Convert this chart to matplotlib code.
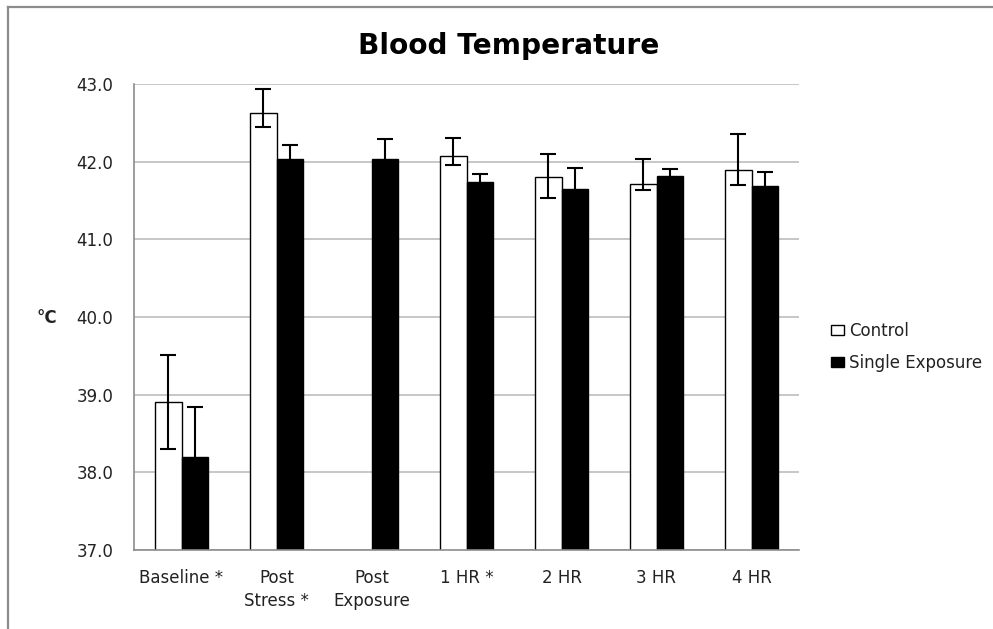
import numpy as np
import matplotlib
matplotlib.use("Agg")
import matplotlib.pyplot as plt
from matplotlib.lines import Line2D

# blood temperature (deg C) per time point, mean with error bars
categories = ["Baseline *", "Post\nStress *", "Post\nExposure", "1 HR *", "2 HR", "3 HR", "4 HR"]
control = [38.91, 42.63, np.nan, 42.07, 41.80, 41.71, 41.89]
control_err_up = [0.60, 0.30, np.nan, 0.23, 0.30, 0.33, 0.46]
control_err_down = [0.61, 0.19, np.nan, 0.11, 0.27, 0.07, 0.19]
single = [38.20, 42.03, 42.03, 41.74, 41.65, 41.81, 41.69]
single_err = [0.64, 0.19, 0.26, 0.10, 0.27, 0.09, 0.18]

plt.rcParams['font.family'] = ['DejaVu Sans']
txt = "#222222"

fig = plt.figure(figsize=(9.93, 6.29), dpi=100)
ax = fig.add_axes([134 / 993, 1 - 550 / 629, 665 / 993, 466 / 629])

x = np.arange(len(categories))
w = 0.28
ax.bar(x - w / 2, control, w, color="white", edgecolor="black", linewidth=1.0, zorder=2, label="Control")
ax.bar(x + w / 2, single, w, color="black", edgecolor="black", linewidth=1.0, zorder=2, label="Single Exposure")
ax.errorbar(x - w / 2, control, yerr=[control_err_down, control_err_up], fmt="none",
            ecolor="black", elinewidth=1.5, capsize=6, capthick=1.5, zorder=3)
ax.errorbar(x + w / 2, single, yerr=[single_err, single_err], fmt="none",
            ecolor="black", elinewidth=1.5, capsize=6, capthick=1.5, zorder=3)

ax.set_xlim(-0.5, len(categories) - 0.5)
ax.set_ylim(37.0, 43.0)
ax.set_yticks(np.arange(37.0, 43.5, 1.0))
ax.set_yticklabels([f"{v:.1f}" for v in np.arange(37.0, 43.5, 1.0)])
ax.set_xticks(x)
ax.set_xticklabels(categories, linespacing=1.3)
ax.tick_params(axis="both", length=0, labelsize=12, labelcolor=txt)
ax.tick_params(axis="x", pad=14)
ax.tick_params(axis="y", pad=15)

ax.yaxis.grid(True, color="#bdbdbd", linewidth=1.2, zorder=0)
ax.set_axisbelow(True)
for s in ["top", "right"]:
    ax.spines[s].set_visible(False)
for s in ["left", "bottom"]:
    ax.spines[s].set_color("#8c8c8c")
    ax.spines[s].set_linewidth(1.2)

fig.text(509 / 993, 1 - 46 / 629, "Blood Temperature", ha="center", va="center",
         fontsize=20.2, fontweight="bold", color="black")
fig.text(37 / 993, 1 - 318 / 629, "°C", ha="left", va="center", fontsize=12,
         fontweight="bold", color=txt)

leg = fig.legend(loc="center left", bbox_to_anchor=(831 / 993, 1 - 347 / 629), frameon=False,
                 fontsize=12, handlelength=0.75, handleheight=0.55, handletextpad=0.35,
                 labelspacing=0.85, borderpad=0, borderaxespad=0)
for t in leg.get_texts():
    t.set_color(txt)

# outer chart frame (only left and top edges fall inside the image)
fig.add_artist(Line2D([8 / 993, 8 / 993], [0, 1 - 6.5 / 629], transform=fig.transFigure,
                      color="#8c8c8c", linewidth=1.6))
fig.add_artist(Line2D([8 / 993, 1], [1 - 6.5 / 629, 1 - 6.5 / 629], transform=fig.transFigure,
                      color="#8c8c8c", linewidth=1.6))

fig.savefig("out.png", dpi=100)
